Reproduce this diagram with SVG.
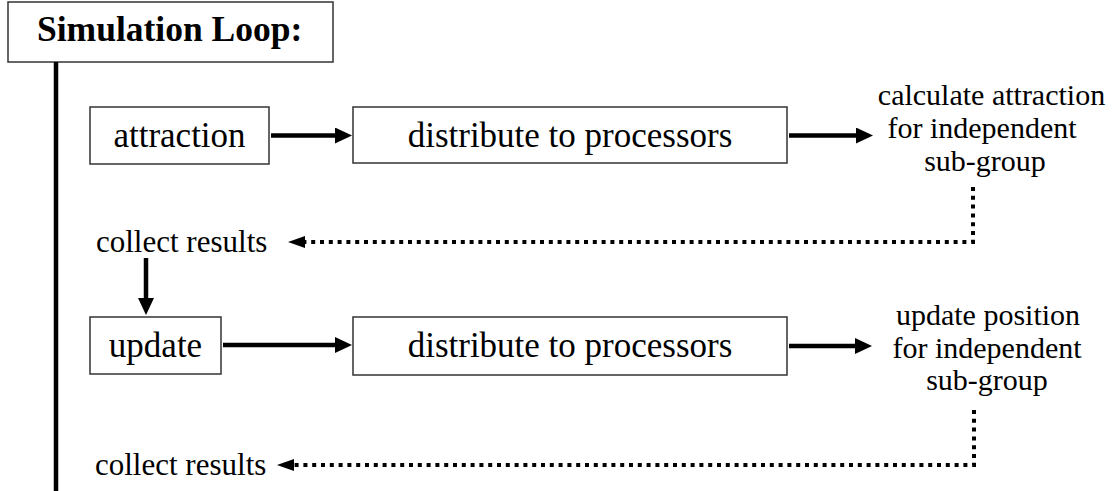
<svg xmlns="http://www.w3.org/2000/svg" width="1114" height="491" viewBox="0 0 1114 491">
  <style>
    .title { font-family: 'Liberation Serif', serif; font-size: 35.5px; font-weight: bold; }
    .box-label { font-family: 'Liberation Serif', serif; font-size: 35px; text-anchor: middle; }
    .side { font-family: 'Liberation Serif', serif; font-size: 30px; text-anchor: middle; }
    .collect { font-family: 'Liberation Serif', serif; font-size: 31px; }
    .box { fill: #fff; stroke: #333; stroke-width: 1.5; }
    .solid { fill: none; stroke: #000; stroke-width: 4.5; }
    .dotted { fill: none; stroke: #000; stroke-width: 4; stroke-dasharray: 4 4.8; }
  </style>
  <defs>
    <marker id="head" viewBox="0 0 17 16" refX="0" refY="8" markerWidth="17" markerHeight="16" markerUnits="userSpaceOnUse" orient="auto">
      <path d="M0,0 L17,8 L0,16 Z" fill="#000"/>
    </marker>
    <marker id="head-small" viewBox="0 0 17 12" refX="0" refY="6" markerWidth="17" markerHeight="12" markerUnits="userSpaceOnUse" orient="auto">
      <path d="M0,0 L17,6 L0,12 Z" fill="#000"/>
    </marker>
  </defs>

  <rect width="1114" height="491" fill="#fff"/>

  <!-- loop header and its timeline bar -->
  <g id="loop-title">
    <rect class="box" x="8" y="2" width="325" height="60"/>
    <text class="title" x="37" y="41">Simulation Loop:</text>
  </g>
  <g id="loop-bar">
    <line x1="56" y1="62" x2="56" y2="491" stroke="#000" stroke-width="4.5"/>
  </g>

  <!-- attraction phase -->
  <g id="attraction">
    <rect class="box" x="90" y="107" width="179" height="57"/>
    <text class="box-label" x="179.5" y="147">attraction</text>
  </g>
  <g id="distribute-1">
    <rect class="box" x="353" y="107" width="434" height="56"/>
    <text class="box-label" x="570" y="147">distribute to processors</text>
  </g>
  <g id="calc-attraction">
    <text class="side" x="991.5" y="105">calculate attraction</text>
    <text class="side" x="982" y="138">for independent</text>
    <text class="side" x="985" y="170.5">sub-group</text>
  </g>
  <g id="collect-1">
    <text class="collect" x="96" y="252">collect results</text>
  </g>

  <!-- update phase -->
  <g id="update">
    <rect class="box" x="90" y="317" width="131" height="57"/>
    <text class="box-label" x="155.5" y="357">update</text>
  </g>
  <g id="distribute-2">
    <rect class="box" x="353" y="317" width="434" height="58"/>
    <text class="box-label" x="570" y="357">distribute to processors</text>
  </g>
  <g id="update-position">
    <text class="side" x="988" y="325">update position</text>
    <text class="side" x="987" y="357.5">for independent</text>
    <text class="side" x="987" y="390">sub-group</text>
  </g>
  <g id="collect-2">
    <text class="collect" x="95" y="475">collect results</text>
  </g>

  <!-- connectors -->
  <g id="connectors">
    <line class="solid" x1="271" y1="135.5" x2="335" y2="135.5" marker-end="url(#head)"/>
    <line class="solid" x1="789" y1="135.5" x2="856" y2="135.5" marker-end="url(#head)"/>
    <path class="dotted" d="M973,187 V242 H305" marker-end="url(#head-small)"/>
    <line class="solid" x1="146" y1="258" x2="146" y2="298" marker-end="url(#head)"/>
    <line class="solid" x1="223" y1="345" x2="335" y2="345" marker-end="url(#head)"/>
    <line class="solid" x1="789" y1="346" x2="855" y2="346" marker-end="url(#head)"/>
    <path class="dotted" d="M974,410 V465 H294" marker-end="url(#head-small)"/>
  </g>
</svg>
